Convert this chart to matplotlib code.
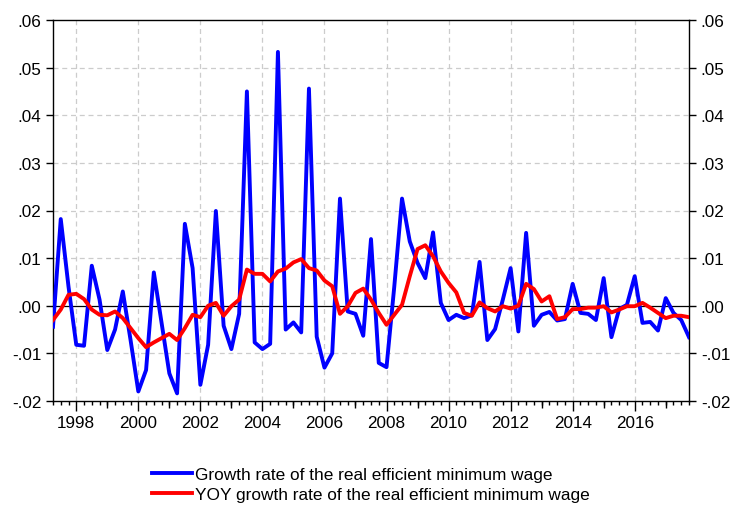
import numpy as np
import matplotlib
matplotlib.use("Agg")
import matplotlib.pyplot as plt
from matplotlib.ticker import MultipleLocator, FuncFormatter

plt.rcParams['font.family'] = ['Liberation Sans', 'DejaVu Sans']

# trimestral 1997Q2 - 2017Q4
inicio = 1997.25
crecimiento = [-0.0044, 0.0182, 0.0040, -0.0082, -0.0084, 0.0084, 0.0013, -0.0093, -0.0050, 0.0030,
               -0.0072, -0.0180, -0.0135, 0.0070, -0.0036, -0.0142, -0.0184, 0.0172, 0.0079, -0.0166,
               -0.0082, 0.0199, -0.0042, -0.0091, -0.0017, 0.0450, -0.0077, -0.0091, -0.0080, 0.0533,
               -0.0050, -0.0035, -0.0056, 0.0456, -0.0065, -0.0130, -0.0100, 0.0225, -0.0012, -0.0017,
               -0.0063, 0.0140, -0.0120, -0.0129, 0.0040, 0.0225, 0.0135, 0.0090, 0.0058, 0.0154,
               0.0006, -0.0030, -0.0019, -0.0026, -0.0020, 0.0092, -0.0072, -0.0049, 0.0013, 0.0079,
               -0.0054, 0.0153, -0.0042, -0.0019, -0.0013, -0.0031, -0.0028, 0.0046, -0.0015, -0.0017,
               -0.0030, 0.0058, -0.0066, -0.0007, 0.0002, 0.0062, -0.0036, -0.0034, -0.0052, 0.0016,
               -0.0015, -0.0030, -0.0066]
interanual = [-0.0030, -0.0008, 0.0023, 0.0025, 0.0014, -0.0008, -0.0019, -0.0020, -0.0012, -0.0026,
              -0.0047, -0.0068, -0.0087, -0.0077, -0.0068, -0.0059, -0.0072, -0.0047, -0.0019, -0.0024,
              0.0000, 0.0006, -0.0021, -0.0001, 0.0013, 0.0076, 0.0067, 0.0067, 0.0051, 0.0072,
              0.0078, 0.0091, 0.0098, 0.0079, 0.0074, 0.0053, 0.0041, -0.0017, -0.0001, 0.0027,
              0.0036, 0.0013, -0.0015, -0.0040, -0.0019, 0.0002, 0.0062, 0.0119, 0.0127, 0.0104,
              0.0072, 0.0048, 0.0028, -0.0015, -0.0021, 0.0007, -0.0005, -0.0012, -0.0001, -0.0006,
              0.0000, 0.0046, 0.0035, 0.0009, 0.0020, -0.0028, -0.0024, -0.0007, -0.0007, -0.0004,
              -0.0004, -0.0001, -0.0014, -0.0008, -0.0001, -0.0001, 0.0006, -0.0004, -0.0015, -0.0026,
              -0.0021, -0.0021, -0.0024]
etiquetas = ["Growth rate of the real efficient minimum wage",
             "YOY growth rate of the real efficient minimum wage"]

t = inicio + 0.25 * np.arange(len(crecimiento))

fig = plt.figure(figsize=(7.32, 5.06), dpi=100)
ax = fig.add_axes([53 / 732, 1 - 402 / 506, 636 / 732, 381 / 506])

ax.plot(t, crecimiento, color='#0000ff', lw=2.8, label=etiquetas[0], zorder=3)
ax.plot(t, interanual, color='#ff0000', lw=2.8, label=etiquetas[1], zorder=4)
ax.axhline(0, color='black', lw=0.9, zorder=2)

ax.set_xlim(t[0], t[-1])
ax.set_ylim(-0.02, 0.06)

# grilla discontinua
for y in np.arange(-0.01, 0.06, 0.01):
    if abs(y) > 1e-9:
        ax.axhline(y, color='#cccccc', lw=0.9, ls=(0, (4, 3)), zorder=1)
for x in range(1998, 2018, 2):
    ax.axvline(x, color='#cccccc', lw=0.9, ls=(0, (4, 3)), zorder=1)

ax.xaxis.set_major_locator(MultipleLocator(2))
ax.xaxis.set_minor_locator(MultipleLocator(0.25))
ax.xaxis.set_major_formatter(FuncFormatter(lambda v, p: f"{int(round(v))}"))
ax.yaxis.set_major_locator(MultipleLocator(0.01))
ax.yaxis.set_minor_locator(MultipleLocator(0.01))


def fmt(v, p):
    s = f"{v:.2f}"
    return s.replace("0.", ".")


ax.yaxis.set_major_formatter(FuncFormatter(fmt))
ax.tick_params(axis='x', which='major', direction='out', length=7, width=1, labelsize=12.3, pad=3)
ax.tick_params(axis='x', which='minor', direction='out', length=3, width=1)
ax.tick_params(axis='y', which='both', direction='out', length=5, width=1, labelsize=12.3,
               left=True, right=True, labelleft=True, labelright=True)
ax.tick_params(axis='x', top=False, which='both')

# ticks de años impares (medianos)
sec = ax.secondary_xaxis('bottom')
sec.set_xticks(range(1999, 2018, 2))
sec.set_xticklabels([])
sec.tick_params(direction='out', length=5, width=1)
sec.spines['bottom'].set_visible(False)

for s in ax.spines.values():
    s.set_linewidth(1)

leg = fig.legend(loc='upper left', bbox_to_anchor=(145 / 732, 1 - 461 / 506), frameon=False,
                 fontsize=12.4, handlelength=2.3, handletextpad=0.2, labelspacing=0.3,
                 borderaxespad=0)

fig.savefig("out.png", dpi=100)
